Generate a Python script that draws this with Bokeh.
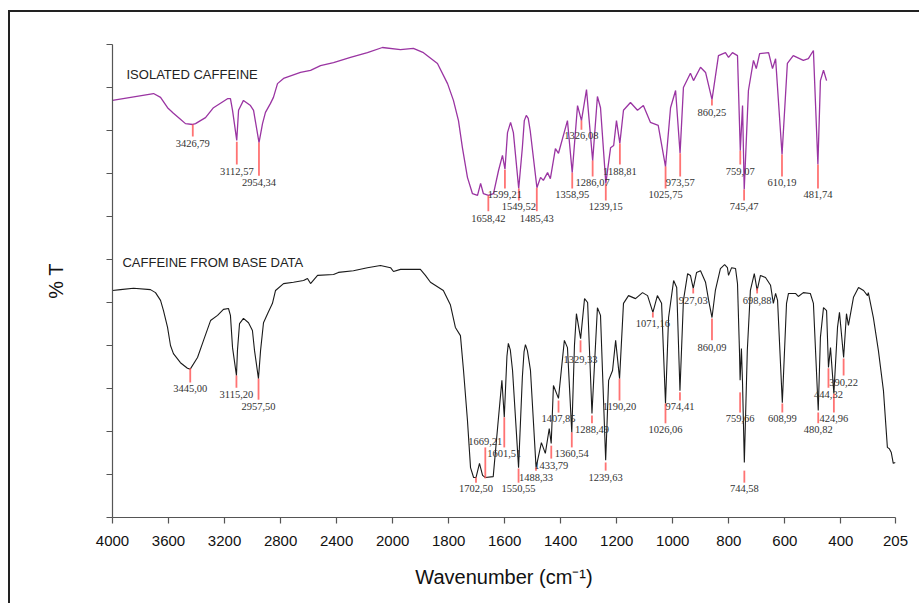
import numpy as np
from bokeh.plotting import figure
from bokeh.models import ColumnDataSource, Range1d, FixedTicker, CustomJSTickFormatter
from bokeh.core.properties import value
from bokeh.embed import file_html
from bokeh.resources import INLINE

# ---------------- data (wavenumber in cm-1, transmittance in arbitrary %T units) ----------------
x_tick_values = [4000, 3600, 3200, 2800, 2400, 2000, 1800, 1600, 1400, 1200, 1000, 800, 600, 400, 205]
y_tick_values = [0, 10, 20, 30, 40, 50, 60, 70, 80, 90, 100, 110]

isolated_wn = [4000, 3707, 3657, 3607, 3565, 3515, 3479, 3427, 3407, 3372, 3336, 3279, 3179, 3158,
               3143, 3113, 3100, 3065, 3015, 2993, 2954, 2929, 2908, 2872,
               2851, 2822, 2779, 2658, 2586, 2515, 2422, 2301, 2180, 2073,
               1972, 1926, 1890, 1840, 1804, 1783, 1765, 1751, 1733, 1715,
               1697, 1686, 1676, 1658, 1640, 1622, 1608, 1599, 1590, 1579,
               1569, 1550, 1537, 1530, 1523, 1516, 1509, 1485, 1472, 1462, 1447, 1437,
               1419, 1408, 1376, 1359, 1340, 1326, 1308, 1286, 1269, 1258,
               1239, 1222, 1211, 1201, 1189, 1176, 1151, 1126, 1105, 1080,
               1052, 1026, 1008, 990, 974, 962, 937, 926, 901, 883,
               860, 837, 812, 801, 787, 769, 759, 751, 745, 730,
               712, 702, 690, 658, 644, 633, 610, 591, 570, 534,
               516, 498, 482, 473, 462, 451]
isolated_t = [97.0, 98.6, 97.7, 95.3, 94.0, 92.6, 91.6, 91.4, 91.6, 92.3, 93.0, 95.3, 97.4, 97.4,
              94.7, 87.7, 94.7, 97.0, 95.8, 94.7, 87.2, 91.6, 94.2, 96.3,
              97.7, 100.9, 102.1, 103.5, 104.0, 105.1, 105.8, 107.0, 108.1, 109.3,
              108.8, 109.1, 108.1, 105.6, 100.9, 97.0, 92.3, 86.0, 79.1, 75.3,
              74.9, 77.7, 75.3, 74.9, 75.3, 80.7, 84.2, 81.0, 89.5, 91.9,
              89.5, 76.5, 86.0, 92.3, 93.5, 92.8, 90.0, 76.7, 79.1, 78.4, 80.2, 78.8,
              85.8, 84.7, 92.3, 80.2, 95.8, 92.3, 99.5, 83.0, 97.9, 95.3,
              77.7, 86.0, 86.5, 92.3, 87.0, 94.7, 96.5, 94.7, 95.8, 91.9,
              91.2, 81.6, 95.3, 99.3, 84.7, 100.0, 103.3, 101.6, 104.7, 103.5,
              97.2, 107.4, 108.1, 107.0, 108.1, 107.4, 85.3, 95.8, 76.3, 99.3,
              106.3, 104.4, 107.9, 108.1, 104.4, 106.7, 84.4, 105.6, 107.4, 106.3,
              106.7, 108.6, 82.1, 101.6, 104.0, 101.6]

base_wn = [4000, 3943, 3850, 3729, 3693, 3657, 3636, 3607, 3586, 3565,
           3515, 3465, 3445, 3393, 3350, 3300, 3250, 3208, 3172, 3158,
           3143, 3115, 3108, 3093, 3065, 3029, 3001, 2986, 2958, 2943,
           2922, 2893, 2858, 2836, 2779, 2708, 2636, 2608, 2586, 2536,
           2422, 2387, 2280, 2180, 2087, 2015, 1997, 1972, 1901, 1883,
           1865, 1819, 1794, 1776, 1758, 1747, 1733, 1722, 1711, 1702.5,
           1690, 1679, 1669, 1641, 1623, 1610, 1601.5, 1592, 1587, 1580, 1572,
           1550.5, 1537, 1531, 1526, 1519, 1508, 1488, 1469, 1455, 1441, 1434, 1426,
           1408, 1398, 1387, 1376, 1360.5, 1351, 1344, 1329, 1315, 1304,
           1288.5, 1269, 1258, 1239.6, 1229, 1215, 1204, 1190, 1176, 1158,
           1133, 1108, 1090, 1071, 1055, 1040, 1026, 1015, 997, 986,
           974.4, 962, 947, 937, 927, 915, 901, 883, 872, 860,
           848, 830, 815, 805, 801, 790, 776, 769, 762, 759.7,
           755, 751, 744.6, 734, 723, 709, 698.9, 687, 669, 651,
           641, 633, 626, 609, 594, 587, 562, 552, 534, 509,
           498, 480.8, 473, 462, 451, 444.3, 437, 425, 412, 405,
           390.2, 380, 373, 355, 337, 319, 305, 302, 284, 266,
           248, 234, 227, 220, 213, 205]
base_t = [52.8, 53.0, 53.3, 53.0, 52.3, 50.5, 48.1, 44.2, 40.0, 38.1,
          36.0, 34.7, 34.5, 37.2, 41.2, 45.8, 47.0, 48.4, 48.6, 47.0,
          39.5, 33.0, 38.8, 45.1, 46.3, 45.3, 43.5, 38.8, 32.3, 38.8,
          45.3, 47.4, 49.8, 52.8, 54.4, 54.7, 55.1, 55.6, 54.4, 56.3,
          56.5, 57.0, 57.4, 58.1, 58.6, 58.1, 57.2, 57.7, 57.7, 56.3,
          54.7, 52.8, 49.5, 44.2, 42.3, 34.2, 22.6, 11.6, 9.3, 9.3,
          12.6, 9.8, 9.3, 9.5, 22.6, 31.9, 23.3, 37.5, 40.5, 39.0, 34.2,
          11.6, 32.6, 38.5, 40.2, 38.8, 34.2, 11.6, 17.4, 14.9, 20.7, 17.2, 30.7,
          27.7, 34.2, 41.2, 39.5, 19.8, 40.0, 47.4, 41.6, 50.9, 50.0,
          24.2, 48.8, 47.0, 13.3, 31.9, 34.2, 41.2, 32.3, 49.8, 51.6,
          50.9, 52.3, 51.6, 47.7, 51.6, 49.8, 26.5, 46.5, 55.1, 53.5,
          29.5, 50.5, 56.7, 56.3, 53.3, 57.0, 57.4, 54.7, 50.5, 46.5,
          52.8, 57.9, 58.8, 58.1, 56.3, 58.1, 57.9, 54.4, 38.8, 31.9,
          39.3, 31.2, 12.8, 38.8, 52.8, 56.7, 52.8, 56.3, 55.8, 54.0,
          49.8, 52.1, 50.5, 26.7, 49.8, 52.1, 52.1, 51.4, 52.3, 52.1,
          49.8, 24.9, 41.9, 48.8, 48.1, 34.9, 39.5, 28.8, 44.2, 47.7,
          37.2, 47.4, 44.7, 51.2, 53.5, 52.8, 51.6, 52.3, 46.5, 38.8,
          29.5, 16.3, 16.0, 15.1, 12.6, 12.8]

isolated_peaks = [3426.79, 3112.57, 2954.34, 1658.42, 1599.21, 1549.52, 1485.43, 1358.95,
                  1326.08, 1286.07, 1239.15, 1188.81, 1025.75, 973.57, 860.25, 759.07,
                  745.47, 610.19, 481.74]
isolated_mark_top = [91.4, 87.4, 87.2, 74.9, 80.9, 76.5, 76.7, 80.2, 92.3, 83.0,
                     77.7, 87.0, 81.6, 84.7, 97.2, 85.3, 76.3, 84.4, 82.1]
isolated_mark_bottom = [88.6, 82.1, 79.5, 71.2, 76.5, 73.7, 71.2, 76.5, 90.2, 79.3,
                        73.7, 82.1, 76.5, 79.3, 95.8, 82.1, 73.7, 79.3, 76.5]
isolated_label_y = [87.0, 80.5, 77.9, 69.5, 75.1, 72.3, 69.5, 75.1, 88.8, 77.9,
                    72.3, 80.5, 75.1, 77.9, 94.2, 80.5, 72.3, 77.9, 75.1]

base_peaks = [3445.00, 3115.20, 2957.50, 1702.50, 1669.21, 1601.51, 1550.55, 1488.33,
              1433.79, 1407.85, 1360.54, 1329.33, 1288.49, 1239.63, 1190.20, 1071.16,
              1026.06, 974.41, 927.03, 860.09, 759.66, 744.58, 698.88, 608.99,
              480.82, 444.32, 424.96, 390.22]
base_mark_top = [34.7, 33.0, 32.3, 9.3, 16.3, 23.3, 11.4, 11.6, 16.7, 27.2,
                 19.8, 41.2, 23.7, 12.8, 32.3, 47.7, 26.5, 29.1, 53.3, 46.3,
                 29.1, 10.9, 53.3, 26.5, 24.4, 34.7, 28.8, 37.0]
base_mark_bottom = [31.4, 30.2, 27.4, 8.1, 9.1, 16.3, 8.1, 10.9, 13.7, 24.4,
                    16.3, 38.4, 21.9, 10.9, 27.2, 46.5, 21.9, 27.2, 52.1, 41.2,
                    24.4, 8.1, 52.1, 24.4, 21.9, 30.2, 24.4, 33.0]
base_label_y = [30.0, 28.6, 25.8, 6.7, 17.7, 14.9, 6.7, 9.3, 12.1, 23.0,
                14.9, 36.7, 20.5, 9.3, 25.8, 45.1, 20.5, 25.8, 50.5, 39.5,
                23.0, 6.7, 50.5, 23.0, 20.5, 28.6, 23.0, 31.4]

series_names = ["ISOLATED CAFFEINE", "CAFFEINE FROM BASE DATA"]
series_name_wn = [3900, 3929]
series_name_t = [103.0, 59.3]


# ---------------- axis with a scale change at 2000 cm-1 ----------------
def wn_to_axis(w):
    w = np.asarray(w, dtype=float)
    return np.where(w >= 2000, (4000.0 - w) / 400.0, 5.0 + (2000.0 - w) / 200.0)


def fmt(w):
    return f"{w:.2f}".replace(".", ",")


x_end = float(wn_to_axis(205))

p = figure(width=919, height=603, x_range=Range1d(0, x_end), y_range=Range1d(0, 110),
           output_backend="svg", toolbar_location=None, tools="",
           min_border_left=112, min_border_right=24, min_border_top=44, min_border_bottom=86)
# page frame (left and top edges only, the rest runs off the picture) drawn as host background
p.border_fill_color = None
p.background_fill_color = "white"
p.styles = {
    "background-color": "white",
    "background-image": "linear-gradient(#222222, #222222), linear-gradient(#222222, #222222)",
    "background-size": "2px 100%, 100% 2px",
    "background-position": "8px 10px, 8px 10px",
    "background-repeat": "no-repeat",
}
p.outline_line_color = None
p.grid.visible = False

tick_pos = [float(v) for v in wn_to_axis(x_tick_values)]
p.xaxis.ticker = FixedTicker(ticks=tick_pos)
p.xaxis.formatter = CustomJSTickFormatter(
    args=dict(pos=tick_pos, labels=[str(t) for t in x_tick_values]),
    code="""
    let best = 0, d = 1e9;
    for (let i = 0; i < pos.length; i++) {
        const dd = Math.abs(pos[i] - tick);
        if (dd < d) { d = dd; best = i; }
    }
    return labels[best];
    """)
p.yaxis.ticker = FixedTicker(ticks=y_tick_values)
p.yaxis.formatter = CustomJSTickFormatter(code="return '';")

for ax in (p.xaxis[0], p.yaxis[0]):
    ax.axis_line_color = "#555555"
    ax.axis_line_width = 1.2
    ax.major_tick_line_color = "#555555"
    ax.major_tick_line_width = 1.2
    ax.major_tick_in = 0
    ax.major_tick_out = 6
    ax.minor_tick_line_color = None
    ax.axis_label_text_font = "Liberation Sans"
    ax.axis_label_text_font_style = "normal"
    ax.axis_label_text_font_size = "20px"
    ax.axis_label_text_color = "#111111"
    ax.major_label_text_font = "Liberation Sans"
    ax.major_label_text_font_size = "15px"
    ax.major_label_text_color = "#111111"

p.xaxis.axis_label = "Wavenumber (cm\u207b\u00b9)"
p.xaxis.major_label_standoff = 12
p.xaxis.axis_label_standoff = 17
p.yaxis.axis_label = "% T"
p.yaxis.major_label_standoff = 0
p.yaxis.axis_label_standoff = 40

# spectra
p.line(x=wn_to_axis(isolated_wn), y=isolated_t, line_color="#9a34a2", line_width=1.3)
p.line(x=wn_to_axis(base_wn), y=base_t, line_color="#1a1a1a", line_width=1.1)

# peak markers
mark_color = "#ff5a5a"
p.segment(x0=wn_to_axis(isolated_peaks), y0=isolated_mark_top,
          x1=wn_to_axis(isolated_peaks), y1=isolated_mark_bottom,
          line_color=mark_color, line_width=1.8, line_alpha=0.85)
p.segment(x0=wn_to_axis(base_peaks), y0=base_mark_top,
          x1=wn_to_axis(base_peaks), y1=base_mark_bottom,
          line_color=mark_color, line_width=1.8, line_alpha=0.85)

lab_src = ColumnDataSource(dict(
    x=list(wn_to_axis(isolated_peaks)) + list(wn_to_axis(base_peaks)),
    y=isolated_label_y + base_label_y,
    t=[fmt(w) for w in isolated_peaks] + [fmt(w) for w in base_peaks]))
p.text(x="x", y="y", text="t", source=lab_src, text_align="center", text_baseline="middle",
       text_font=value("Liberation Serif"), text_font_size=value("10.5px"), text_color="#333333")

# series titles
p.text(x=wn_to_axis(series_name_wn), y=series_name_t, text=series_names,
       text_align="left", text_baseline="middle",
       text_font=value("Liberation Sans"), text_font_size=value("13px"), text_color="#222222")

open("out.html", "w").write(file_html(p, INLINE))
